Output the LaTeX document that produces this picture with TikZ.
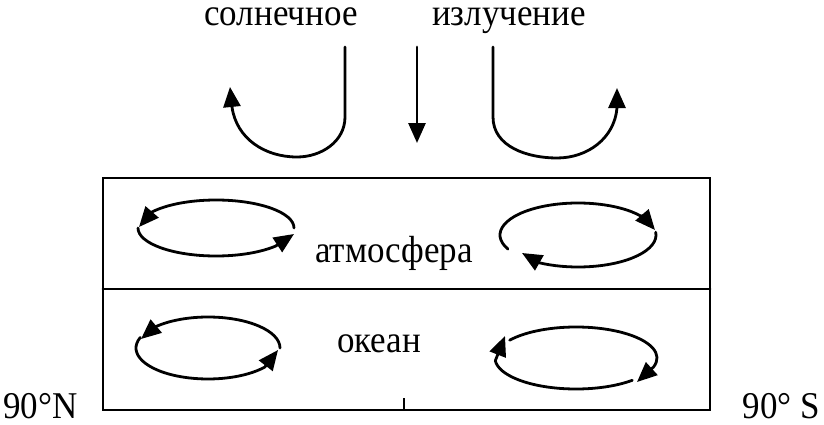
\documentclass[tikz,border=0pt]{standalone}
\usepackage{fontspec}
\setmainfont{Liberation Serif}
\usetikzlibrary{arrows.meta}
\newcommand{\tallt}[1]{\scalebox{1}[1.08]{#1}}
\tikzset{
  lbl/.style={inner sep=0pt, anchor=base, font=\fontsize{35}{40}\selectfont},
  stroke/.style={line width=2.8pt, line cap=round, line join=round},
  flow/.style={stroke, -{Triangle[length=20pt,width=17pt]}},
}
\begin{document}
\begin{tikzpicture}[x=1pt,y=1pt]
\useasboundingbox (0,0) rectangle (824,424);
% texts
\node[lbl] (sol) at (281,398) {\tallt{солнечное}};
\node[lbl] (izl) at (509,398) {\tallt{излучение}};
\node[lbl] (atm) at (394,162) {\tallt{атмосфера}};
\node[lbl] (oke) at (379,72) {\tallt{океан}};
\node[lbl, anchor=base west] (north) at (3,6) {\tallt{90°N}};
\node[lbl, anchor=base east] (south) at (820,6) {\tallt{90° S}};
% box
\draw[stroke, line cap=butt, line join=miter] (103,14) rectangle (710,246);
\draw[stroke] (103,135) -- (710,135);
\draw[stroke, line cap=butt] (404,14) -- (404,26);
% incoming radiation
\draw[flow] (345,377) -- (345,307) to[out=-90,in=0] (297,267) to[out=180,in=-82] (232,317) -- (230,337);
\draw[flow] (417,377) -- (417,281);
\draw[flow] (493,377) -- (493,307) to[out=-90,in=180] (557,266) to[out=0,in=-95] (617,316) -- (617,336);
% atmosphere, left
\draw[flow] (216,196) ++(0:78 and 28) arc[start angle=0, end angle=145, x radius=78, y radius=28] -- (139,197);
\draw[flow] (216,196) ++(180:78 and 28) arc[start angle=180, end angle=320, x radius=78, y radius=28] -- (294,190);
% atmosphere, right
\draw[flow] (578,189) ++(206:78 and 32) arc[start angle=206, end angle=30, x radius=78, y radius=32] -- (655,194);
\draw[flow] (578,189) ++(5:78 and 32) arc[start angle=5, end angle=-120, x radius=78, y radius=32] -- (522,171);
% ocean, left
\draw[flow] (208,76) ++(0:72 and 31) arc[start angle=0, end angle=137, x radius=72, y radius=31] -- (141,85);
\draw[flow] (208,76) ++(160:72 and 31) arc[start angle=160, end angle=322, x radius=72, y radius=31] -- (278,74);
% ocean, right
\draw[flow] (576,66) ++(-46:81 and 31) arc[start angle=-46, end angle=-175, x radius=81, y radius=31] -- (505,88);
\draw[flow] (576,66) ++(145:81 and 31) arc[start angle=145, end angle=-17, x radius=81, y radius=31] -- (637,42);
\end{tikzpicture}
\end{document}
